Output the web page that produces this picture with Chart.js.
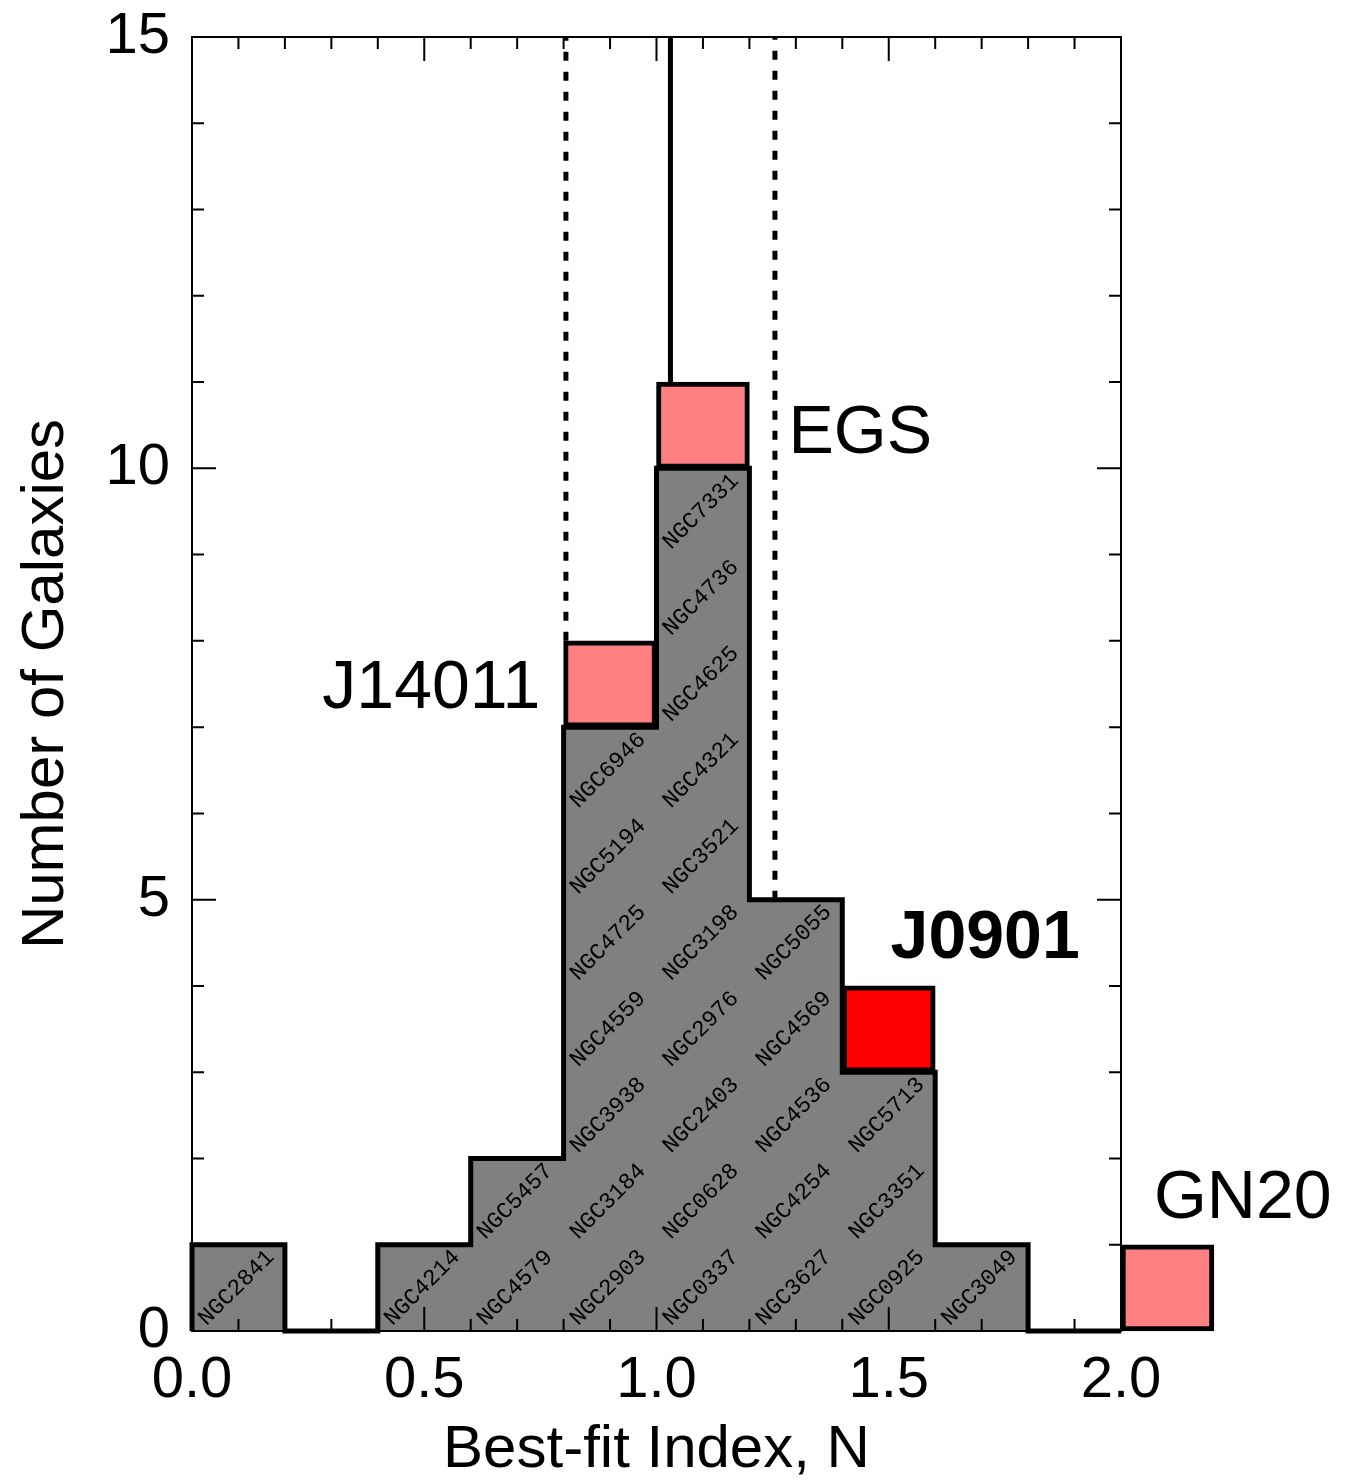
<!DOCTYPE html>
<html>
<head>
<meta charset="utf-8">
<script src="https://cdn.jsdelivr.net/npm/chart.js@4.4.0/dist/chart.umd.min.js"></script>
<style>
  html, body { margin: 0; padding: 0; background: #fff; }
  #wrap { width: 1367px; height: 1480px; }
</style>
</head>
<body>
<div id="wrap"><canvas id="histo" width="1367" height="1480"></canvas></div>
<script>
// histogram bins of best-fit index N (width 0.2)
const binEdges = [0.0, 0.2, 0.4, 0.6, 0.8, 1.0, 1.2, 1.4, 1.6, 1.8, 2.0, 2.2];

// local galaxies per bin (up to N = 2.0)
const localCounts = [1, 0, 1, 2, 7, 10, 5, 3, 1, 0];

// names stacked in each bin, bottom to top
const localNames = [
    ['NGC2841'],
    [],
    ['NGC4214'],
    ['NGC4579', 'NGC5457'],
    ['NGC2903', 'NGC3184', 'NGC3938', 'NGC4559', 'NGC4725', 'NGC5194', 'NGC6946'],
    ['NGC0337', 'NGC0628', 'NGC2403', 'NGC2976', 'NGC3198', 'NGC3521', 'NGC4321', 'NGC4625', 'NGC4736', 'NGC7331'],
    ['NGC3627', 'NGC4254', 'NGC4536', 'NGC4569', 'NGC5055'],
    ['NGC0925', 'NGC3351', 'NGC5713'],
    ['NGC3049'],
    []
];

// high-z sources, each sits on top of its bin
const hiZNames = ['J14011', 'EGS', 'J0901', 'GN20'];
const hiZBin = [4, 5, 7, 10];
const hiZColors = ['#ff8080', '#ff8080', '#ff0000', '#ff8080'];

// mean index and +/- 1 sigma
const fitMean = 1.03;
const fitRange = [0.805, 1.255];

const xTicks = [0.0, 0.5, 1.0, 1.5, 2.0];
const yTicks = [0, 5, 10, 15];

const FONT = "'Liberation Sans', Arial, Helvetica, sans-serif";

function binCenter(i) {
    return (binEdges[i] + binEdges[i + 1]) / 2;
}

function localAt(i) {
    return i < localCounts.length ? localCounts[i] : 0;
}

// total height of the stack at a given N
function stackHeight(x) {
    let b = 0;
    while (b < binEdges.length - 2 && x >= binEdges[b + 1]) b++;
    let h = localAt(b);
    hiZBin.forEach(k => { if (k === b) h += 1; });
    return h;
}

// gray bars
const grayData = localCounts.map((c, i) => ({ x: binCenter(i), y: c }));

// coloured boxes on top
const hiZData = hiZBin.map(b => ({ x: binCenter(b), y: [localAt(b), localAt(b) + 1] }));

// step outline around the local histogram
const outline = [{ x: binEdges[0], y: 0 }];
localCounts.forEach((c, i) => {
    outline.push({ x: binEdges[i], y: c });
    outline.push({ x: binEdges[i + 1], y: c });
});
outline.push({ x: binEdges[localCounts.length], y: 0 });

const yTop = yTicks[yTicks.length - 1];

function vline(x) {
    return [{ x: x, y: stackHeight(x) }, { x: x, y: yTop }];
}

// galaxy names, frame with inward ticks, source tags
const decorations = {
    id: 'decorations',
    afterDatasetsDraw(chart) {
        const ctx = chart.ctx;
        const xs = chart.scales.x;
        const ys = chart.scales.y;
        const area = chart.chartArea;

        // names inside the gray cells
        ctx.save();
        ctx.fillStyle = '#000';
        ctx.font = "23px 'Liberation Mono', 'DejaVu Sans Mono', monospace";
        ctx.textAlign = 'center';
        ctx.textBaseline = 'middle';
        localNames.forEach((names, i) => {
            names.forEach((name, k) => {
                ctx.save();
                ctx.translate(xs.getPixelForValue(binCenter(i)) - 2, ys.getPixelForValue(k + 0.5));
                ctx.rotate(-Math.PI / 4);
                ctx.fillText(name, 0, 0);
                ctx.restore();
            });
        });
        ctx.restore();

        // frame
        ctx.save();
        ctx.strokeStyle = '#000';
        ctx.lineWidth = 2;
        ctx.strokeRect(area.left, area.top, area.right - area.left, area.bottom - area.top);

        // inward ticks on all four sides
        const minorLen = 12, majorLen = 24;
        ctx.beginPath();
        for (let i = 0; i <= 20; i++) {
            const v = i / 10;
            const px = xs.getPixelForValue(v);
            const len = (i % 5 === 0) ? majorLen : minorLen;
            ctx.moveTo(px, area.bottom);
            ctx.lineTo(px, area.bottom - len);
            ctx.moveTo(px, area.top);
            ctx.lineTo(px, area.top + len);
        }
        for (let v = 0; v <= yTop; v++) {
            const py = ys.getPixelForValue(v);
            const len = (v % 5 === 0) ? majorLen : minorLen;
            ctx.moveTo(area.left, py);
            ctx.lineTo(area.left + len, py);
            ctx.moveTo(area.right, py);
            ctx.lineTo(area.right - len, py);
        }
        ctx.stroke();
        ctx.restore();

        // tags next to the coloured boxes
        const tagPlace = [
            { x: 0.750, y: 7.22, align: 'right' },
            { x: 1.284, y: 10.18, align: 'left' },
            { x: 1.504, y: 4.32, align: 'left', bold: true },
            { x: 2.071, y: 1.31, align: 'left' }
        ];
        ctx.save();
        ctx.fillStyle = '#000';
        ctx.textBaseline = 'alphabetic';
        hiZNames.forEach((name, i) => {
            const p = tagPlace[i];
            ctx.font = (p.bold ? 'bold ' : '') + '68px ' + FONT;
            ctx.textAlign = p.align;
            ctx.fillText(name, xs.getPixelForValue(p.x), ys.getPixelForValue(p.y));
        });
        ctx.restore();
    }
};

new Chart(document.getElementById('histo'), {
    type: 'bar',
    data: {
        datasets: [
            {
                label: 'fit',
                type: 'line',
                data: vline(fitMean),
                borderColor: '#000',
                borderWidth: 5,
                pointRadius: 0,
                clip: false,
                order: 0
            },
            {
                label: 'fit -1s',
                type: 'line',
                data: vline(fitRange[0]),
                borderColor: '#000',
                borderWidth: 5,
                borderDash: [9, 11],
                borderCapStyle: 'butt',
                pointRadius: 0,
                clip: false,
                order: 0
            },
            {
                label: 'fit +1s',
                type: 'line',
                data: vline(fitRange[1]),
                borderColor: '#000',
                borderWidth: 5,
                borderDash: [9, 11],
                borderCapStyle: 'butt',
                pointRadius: 0,
                clip: false,
                order: 0
            },
            {
                label: 'high-z',
                data: hiZData,
                backgroundColor: hiZColors,
                borderColor: '#000',
                borderWidth: 5,
                borderSkipped: false,
                grouped: false,
                barPercentage: 1,
                categoryPercentage: 1,
                clip: false,
                order: 1
            },
            {
                label: 'outline',
                type: 'line',
                data: outline,
                borderColor: '#000',
                borderWidth: 5,
                borderJoinStyle: 'miter',
                pointRadius: 0,
                tension: 0,
                clip: false,
                order: 2
            },
            {
                label: 'local',
                data: grayData,
                backgroundColor: '#808080',
                borderWidth: 0,
                grouped: false,
                barPercentage: 1,
                categoryPercentage: 1,
                clip: false,
                order: 3
            }
        ]
    },
    options: {
        responsive: false,
        animation: false,
        events: [],
        layout: { padding: { top: 37, right: 246, bottom: 0, left: 0 } },
        plugins: {
            legend: { display: false },
            tooltip: { enabled: false }
        },
        scales: {
            x: {
                type: 'linear',
                min: 0,
                max: 2.0,
                offset: false,
                afterBuildTicks: s => { s.ticks = xTicks.map(v => ({ value: v })); },
                afterFit: s => { s.height = 149; s.paddingLeft = 0; s.paddingRight = 0; },
                ticks: {
                    autoSkip: false,
                    maxRotation: 0,
                    padding: 15,
                    color: '#000',
                    font: { family: FONT, size: 58 },
                    callback: v => Number(v).toFixed(1)
                },
                grid: { display: false, drawTicks: false },
                border: { display: false },
                title: {
                    display: true,
                    text: 'Best-fit Index, N',
                    color: '#000',
                    font: { family: FONT, size: 60, lineHeight: 1 },
                    padding: { top: 0, bottom: 0 }
                }
            },
            y: {
                type: 'linear',
                min: 0,
                max: yTop,
                afterBuildTicks: s => { s.ticks = yTicks.map(v => ({ value: v })); },
                afterFit: s => { s.width = 192; s.paddingTop = 0; s.paddingBottom = 0; },
                ticks: {
                    padding: 22,
                    color: '#000',
                    font: { family: FONT, size: 58 }
                },
                grid: { display: false, drawTicks: false },
                border: { display: false },
                title: {
                    display: true,
                    text: 'Number of Galaxies',
                    color: '#000',
                    font: { family: FONT, size: 60, lineHeight: 1 },
                    padding: { top: 16, bottom: 0 }
                }
            }
        }
    },
    plugins: [decorations]
});
</script>
</body>
</html>
